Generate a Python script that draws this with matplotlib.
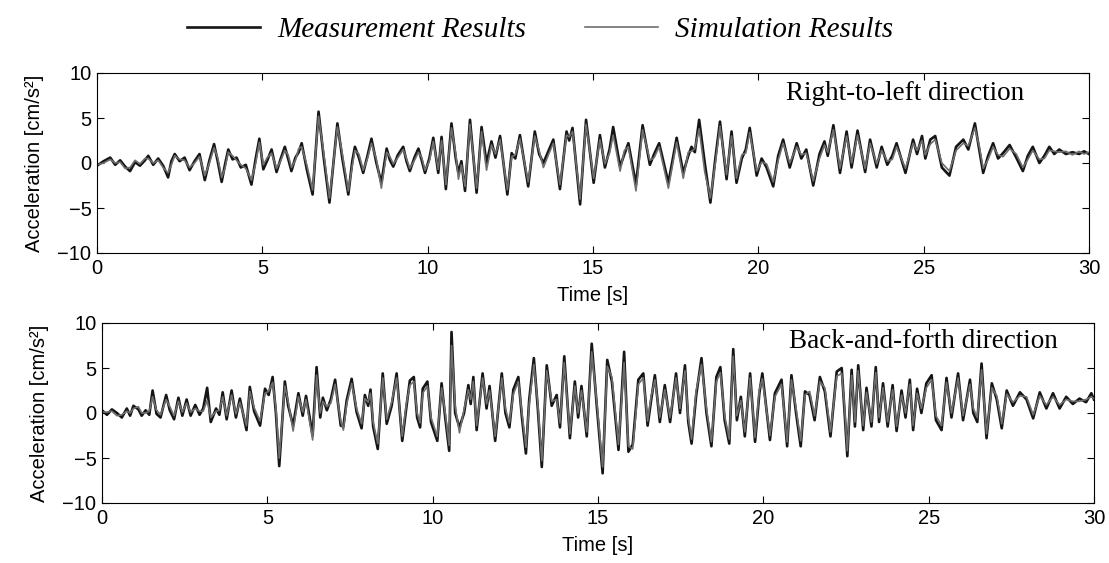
import matplotlib
matplotlib.use("Agg")
import matplotlib.pyplot as plt

plt.rcParams['font.family'] = ['Liberation Sans', 'DejaVu Sans']

# ---- Right-to-left direction (top panel) ----
t_rl = [0.0, 0.2, 0.4, 0.55, 0.7, 0.85, 1.0, 1.15, 1.3, 1.45, 1.55, 1.7, 1.85, 2.0, 2.15, 2.25, 2.35, 2.5, 2.65, 2.8,
        2.95, 3.1, 3.26, 3.4, 3.54, 3.65, 3.77, 3.87, 3.97, 4.1, 4.22, 4.35, 4.5, 4.67, 4.8, 4.91, 5.03, 5.15, 5.28, 5.43,
        5.55, 5.68, 5.78, 5.88, 6.0, 6.1, 6.19, 6.35, 6.52, 6.70, 6.86, 7.03, 7.27, 7.42, 7.6, 7.72, 7.8, 7.92, 8.05, 8.18,
        8.3, 8.45, 8.6, 8.76, 8.86, 8.96, 9.1, 9.26, 9.36, 9.46, 9.6, 9.72, 9.82, 9.92, 10.05, 10.17, 10.32, 10.42, 10.55, 10.72,
        10.85, 10.93, 11.02, 11.13, 11.28, 11.48, 11.63, 11.78, 11.93, 12.05, 12.19, 12.41, 12.54, 12.65, 12.79, 13.04, 13.24, 13.37, 13.50, 13.65,
        13.80, 14.0, 14.20, 14.28, 14.38, 14.61, 14.79, 15.02, 15.21, 15.36, 15.50, 15.61, 15.82, 15.95, 16.07, 16.30, 16.50, 16.72, 16.85, 17.0,
        17.28, 17.53, 17.73, 17.88, 17.98, 18.08, 18.21, 18.38, 18.55, 18.70, 18.84, 19.04, 19.19, 19.34, 19.50, 19.62, 19.74, 19.95, 20.1, 20.25,
        20.45, 20.6, 20.75, 20.95, 21.16, 21.3, 21.45, 21.66, 21.85, 22.0, 22.1, 22.27, 22.47, 22.67, 22.82, 23.0, 23.23, 23.38, 23.58, 23.73,
        23.9, 24.05, 24.18, 24.45, 24.68, 24.8, 24.95, 25.05, 25.2, 25.35, 25.55, 25.78, 25.98, 26.2, 26.35, 26.55, 26.68, 26.8, 26.95, 27.1,
        27.25, 27.4, 27.6, 27.8, 28.0, 28.15, 28.3, 28.5, 28.65, 28.8, 28.95, 29.1, 29.3, 29.5, 29.7, 29.85, 30.0]
meas_rl = [-0.3, 0.2, 0.6, -0.2, 0.3, -0.4, -0.9, 0.1, -0.3, 0.3, 0.8, -0.2, 0.5, -0.3, -1.6, 0.2, 1.0, 0.2, 0.6, -0.8,
           0.2, 1.0, -1.9, 0.3, 2.1, 0.2, -2.1, -0.2, 1.5, 0.4, 0.6, -0.5, -0.2, -2.4, 0.5, 2.7, -0.7, 0.3, 1.5, -1.0,
           0.4, 1.8, 0.5, -0.9, 0.6, 1.2, 2.2, -0.8, -3.5, 5.7, 0.5, -4.4, 4.4, 0.5, -3.5, 0.2, 1.8, 0.6, -1.1, 0.8,
           2.7, 0.0, -2.2, 1.6, 0.3, -0.4, 0.9, 1.8, 0.2, -0.9, 0.6, 1.6, 0.3, -1.1, 0.5, 2.8, -1.1, 2.9, -2.9, 4.4,
           0.5, -1.1, 0.2, -3.1, 4.8, -3.3, 4.0, 0.0, 2.4, 0.6, 3.0, -3.5, 1.1, 0.5, 3.1, -2.6, 3.5, 1.0, 0.0, 1.3,
           2.6, -2.9, 3.5, 2.5, 3.9, -4.6, 4.8, -2.2, 3.1, -0.5, 1.5, 4.0, -0.4, 1.0, 2.2, -2.4, 4.2, -0.2, 1.0, 2.2,
           -2.2, 2.8, -1.1, 0.8, 1.8, 1.2, 4.8, 0.0, -4.4, 0.5, 4.6, -1.8, 3.5, -2.2, 0.5, 1.5, 3.9, -1.4, 0.5, -0.5,
           -2.6, 0.8, 2.6, -0.5, 2.2, 0.5, 1.5, -2.5, 1.0, 2.4, 0.8, 4.2, -1.1, 3.5, -0.5, 3.6, -1.0, 2.6, -0.5, 1.8,
           -0.2, 0.8, 2.2, -1.1, 2.6, 1.0, 3.0, 0.5, 2.6, 3.0, -0.5, -1.4, 1.8, 2.6, 1.5, 4.4, 1.5, -1.1, 0.8, 2.2,
           0.5, 1.1, 2.0, 0.6, -0.9, 0.8, 1.8, 0.0, 0.8, 1.8, 1.0, 1.5, 1.0, 1.2, 1.0, 1.3, 1.0]
sim_rl = [-0.2, 0.0, 0.4, 0.0, 0.1, -0.6, -0.5, 0.3, -0.1, 0.5, 0.5, 0.0, 0.3, -0.5, -1.1, -0.2, 0.8, 0.4, 0.3, -0.5,
          0.0, 0.7, -1.4, 0.0, 1.7, 0.6, -1.6, -0.6, 1.2, 0.8, 0.3, -0.2, -0.6, -1.9, 0.0, 2.3, -0.2, 0.6, 1.1, -0.6,
          0.2, 1.4, 0.9, -0.5, 0.3, 1.6, 1.8, -0.3, -3.0, 5.2, 1.0, -3.9, 4.0, 1.0, -3.1, -0.3, 1.4, 1.0, -0.8, 0.5,
          2.2, 0.4, -2.8, 1.2, 0.7, -0.1, 0.6, 1.5, 0.5, -0.6, 0.3, 1.2, 0.6, -0.8, 0.2, 2.4, -0.7, 2.5, -2.4, 3.9,
          1.0, -1.8, -0.2, -2.6, 4.3, -2.8, 3.5, -0.8, 2.0, 1.0, 2.6, -3.0, 0.7, 0.9, 2.7, -2.1, 3.0, 1.4, -0.5, 0.9,
          2.2, -2.4, 3.1, 2.9, 3.5, -4.0, 4.3, -1.7, 2.6, -0.1, 1.1, 3.1, -0.9, 1.4, 1.8, -3.1, 3.7, 0.3, 0.6, 1.8,
          -2.8, 2.3, -1.7, 1.2, 1.3, 1.6, 3.8, -1.0, -3.9, 0.0, 4.1, -1.3, 3.0, -1.7, 0.9, 1.1, 3.4, -0.9, 0.1, -0.1,
          -2.1, 0.3, 2.2, 0.0, 1.8, 0.9, 1.1, -2.0, 0.5, 2.0, 1.2, 3.7, -0.6, 3.0, 0.0, 3.1, -0.6, 2.2, -0.1, 1.4,
          0.2, 0.4, 1.8, -0.6, 2.2, 1.4, 2.5, 0.9, 2.1, 2.6, 0.0, -0.9, 1.4, 2.2, 1.9, 3.9, 1.9, -0.6, 0.4, 1.8,
          0.9, 0.7, 1.6, 1.0, -0.5, 0.4, 1.4, 0.4, 0.5, 1.4, 1.3, 1.2, 1.3, 0.9, 1.3, 1.0, 1.2]

# ---- Back-and-forth direction (bottom panel) ----
t_bf = [0.0, 0.15, 0.3, 0.45, 0.6, 0.75, 0.85, 0.95, 1.1, 1.2, 1.32, 1.43, 1.53, 1.65, 1.77, 1.94, 2.05, 2.18, 2.31, 2.43,
        2.56, 2.68, 2.82, 2.95, 3.06, 3.18, 3.29, 3.45, 3.55, 3.65, 3.77, 3.92, 4.05, 4.17, 4.37, 4.47, 4.6, 4.78, 4.93, 5.04,
        5.16, 5.26, 5.36, 5.53, 5.63, 5.78, 5.94, 6.07, 6.17, 6.37, 6.49, 6.60, 6.68, 6.80, 6.92, 7.05, 7.22, 7.30, 7.40, 7.55,
        7.70, 7.85, 7.95, 8.05, 8.12, 8.2, 8.34, 8.49, 8.61, 8.76, 8.91, 9.08, 9.2, 9.31, 9.43, 9.53, 9.62, 9.70, 9.84, 9.95,
        10.14, 10.27, 10.38, 10.50, 10.57, 10.68, 10.81, 10.95, 11.08, 11.15, 11.23, 11.33, 11.51, 11.63, 11.72, 11.89, 12.09, 12.2, 12.32, 12.44,
        12.59, 12.7, 12.82, 12.92, 13.06, 13.18, 13.30, 13.45, 13.60, 13.75, 13.85, 13.98, 14.15, 14.30, 14.40, 14.50, 14.66, 14.81, 14.97, 15.14,
        15.28, 15.42, 15.62, 15.79, 15.92, 16.05, 16.22, 16.37, 16.50, 16.61, 16.72, 16.87, 17.02, 17.18, 17.36, 17.48, 17.63, 17.73, 17.83, 17.97,
        18.13, 18.28, 18.43, 18.58, 18.70, 18.83, 18.97, 19.09, 19.2, 19.32, 19.44, 19.60, 19.75, 19.88, 19.97, 20.20, 20.35, 20.55, 20.72, 20.85,
        20.99, 21.13, 21.26, 21.40, 21.55, 21.71, 21.86, 22.03, 22.22, 22.37, 22.45, 22.54, 22.67, 22.77, 22.87, 23.02, 23.12, 23.27, 23.40, 23.50,
        23.62, 23.76, 23.91, 24.03, 24.18, 24.30, 24.43, 24.53, 24.65, 24.78, 24.93, 25.09, 25.22, 25.39, 25.54, 25.69, 25.89, 26.04, 26.25, 26.35,
        26.47, 26.60, 26.75, 26.91, 27.06, 27.21, 27.36, 27.55, 27.76, 27.96, 28.16, 28.36, 28.56, 28.76, 28.96, 29.16, 29.36, 29.56, 29.76, 29.92,
        30.0]
meas_bf = [0.3, -0.2, 0.4, 0.0, -0.5, 0.5, -0.3, 0.8, 0.4, -0.3, 0.3, -0.2, 2.5, -0.1, -0.5, 2.0, 0.3, -0.7, 1.7, -0.3,
           1.5, -0.3, 0.9, -0.2, 0.5, 2.8, -1.0, 0.5, -0.2, 2.3, -0.7, 2.5, -0.5, 1.6, -1.9, 2.9, 0.2, -1.4, 2.7, 2.0,
           4.0, 0.0, -5.9, 3.5, 0.8, -1.4, 2.2, -0.3, 1.9, -2.5, 5.1, -0.5, 1.7, 0.3, 1.5, 3.7, -1.4, -1.5, 1.4, 3.8,
           0.1, -1.7, 2.0, 0.8, 2.6, -1.5, -4.0, 4.4, -1.2, 0.8, 4.4, -3.1, 0.5, 3.6, 4.0, -0.5, -1.6, 2.7, 3.5, -1.0,
           -3.1, 3.3, -0.5, -4.2, 9.0, 0.0, -1.6, 0.0, 3.1, 1.0, 4.0, -1.9, 4.4, 0.5, 3.0, -3.1, 4.4, 0.0, -1.6, 2.6,
           4.0, -0.5, -4.5, 1.5, 6.1, 0.5, -6.0, 5.3, 0.8, 2.0, -1.6, 6.3, -2.8, 3.5, -0.5, 3.0, -2.6, 7.7, 0.5, -6.7,
           5.9, 3.5, -4.1, 6.8, -4.3, -3.5, 3.7, 4.4, -1.4, 1.5, 4.2, -1.0, 3.1, -1.0, 4.4, 0.0, 5.3, -1.0, -3.4, 2.0,
           6.1, 0.0, -3.7, 4.0, 5.1, -0.8, -3.4, 7.1, -0.8, 1.8, -2.6, 4.4, -3.2, 2.2, 4.4, -3.0, 2.2, 3.7, -3.7, 4.2,
           0.0, -3.7, 2.4, 2.0, -0.8, 4.0, 2.4, -2.6, 4.6, 5.0, 0.5, -4.8, 4.8, -1.5, 5.3, -1.9, 2.8, -1.5, 5.1, -1.0,
           3.3, -1.5, 3.1, -2.0, 2.5, -0.5, 3.7, -1.9, 2.7, 0.0, 3.3, 4.2, -0.8, -1.9, 3.9, -0.5, 4.4, -0.8, 3.7, 0.0,
           -1.0, 5.5, -2.8, 3.3, 1.5, -1.7, 2.5, 0.8, 2.3, 1.5, -0.6, 2.3, 0.5, 2.2, 0.5, 1.8, 1.0, 1.6, 1.2, 2.2,
           1.5]
sim_bf = [0.1, 0.1, 0.2, -0.3, -0.2, 0.2, 0.0, 0.5, 0.7, 0.0, 0.0, 0.2, 1.8, 0.3, -0.2, 1.5, 0.7, -0.3, 1.3, 0.1,
          1.1, 0.1, 0.5, 0.2, 0.2, 1.4, -0.5, 0.2, 0.3, 1.8, -0.3, 2.0, -0.1, 1.2, -1.4, 2.4, 0.6, -0.9, 2.2, 2.4,
          3.4, 0.5, -5.0, 3.0, 1.3, -2.0, 1.8, 0.1, 1.5, -3.0, 4.2, 0.0, 1.3, 0.7, 1.1, 3.2, -0.9, -1.9, 1.0, 3.3,
          0.5, -1.2, 1.6, 1.2, 2.2, -1.0, -3.4, 3.9, -0.7, 1.2, 3.9, -2.6, 0.9, 3.1, 3.5, 0.0, -1.1, 2.2, 3.0, -0.5,
          -2.6, 2.8, 0.0, -3.6, 7.5, 0.8, -2.2, 0.4, 2.6, 1.5, 3.5, -1.4, 3.9, 1.0, 2.5, -2.6, 3.9, 0.5, -1.1, 2.1,
          3.5, 0.0, -3.8, 1.0, 5.4, 1.0, -5.3, 4.7, 1.3, 1.5, -1.1, 5.6, -2.3, 3.0, 0.0, 2.5, -2.1, 6.8, 1.0, -6.0,
          5.2, 4.0, -3.5, 5.6, -3.7, -4.0, 3.2, 3.9, -0.9, 1.9, 3.7, -0.5, 2.6, -0.5, 3.9, 0.5, 4.7, -0.5, -2.9, 2.5,
          5.4, 0.5, -3.2, 3.5, 4.5, -0.3, -2.9, 6.3, -0.3, 1.4, -2.1, 3.9, -2.7, 2.6, 3.8, -2.5, 1.8, 3.2, -3.2, 3.7,
          0.5, -3.1, 2.0, 2.4, -0.3, 3.5, 2.8, -2.1, 4.1, 4.4, 1.0, -4.2, 4.2, -1.0, 4.7, -1.4, 2.3, -1.0, 4.5, -0.5,
          2.8, -1.0, 2.6, -1.5, 2.0, 0.0, 3.2, -1.4, 2.2, 0.5, 2.8, 3.7, -0.3, -1.4, 3.4, 0.0, 3.9, -0.3, 3.2, 0.5,
          -0.5, 4.8, -2.3, 2.8, 1.9, -1.2, 2.1, 1.2, 1.9, 1.8, -0.2, 1.9, 0.9, 1.8, 0.9, 1.5, 1.3, 1.3, 1.5, 1.8,
          1.6]

assert len(t_rl) == len(meas_rl) == len(sim_rl)
assert len(t_bf) == len(meas_bf) == len(sim_bf)

panels = [
    (t_rl, meas_rl, sim_rl, "Right-to-left direction", [97, 73], (0.815, 0.885)),
    (t_bf, meas_bf, sim_bf, "Back-and-forth direction", [102, 323], (0.828, 0.895)),
]

W, H = 1109, 563
fig = plt.figure(figsize=(W / 100, H / 100), dpi=100)

handles = None
for t, meas, sim, title, (left, top), txt_pos in panels:
    ax = fig.add_axes([left / W, 1 - (top + 180) / H, 992 / W, 180 / H])
    l1, = ax.plot(t, meas, color='#151515', lw=1.9)
    l2, = ax.plot(t, sim, color='#6e6e6e', lw=1.2)
    handles = (l1, l2)
    ax.set_xlim(0, 30)
    ax.set_ylim(-10, 10)
    ax.set_xticks(range(0, 31, 5))
    ax.set_yticks(range(-10, 11, 5))
    ax.tick_params(direction='in', top=True, right=True, length=5, width=0.8, labelsize=14.5, pad=4)
    for s in ax.spines.values():
        s.set_linewidth(0.8)
    ax.set_xlabel("Time [s]", fontsize=14.5, labelpad=6)
    ax.set_ylabel("Acceleration [cm/s²]", fontsize=14.5, labelpad=10)
    ax.text(txt_pos[0], txt_pos[1], title, transform=ax.transAxes, ha='center', va='center',
            family='Liberation Serif', fontsize=19.5)

fig.legend(handles, ["Measurement Results", "Simulation Results"], loc='center',
           bbox_to_anchor=(0.487, 0.947), ncol=2, frameon=False,
           prop=dict(family='Liberation Serif', style='italic', size=21),
           handlelength=2.5, handletextpad=0.6, columnspacing=2.0)

fig.savefig("out.png", dpi=100)
